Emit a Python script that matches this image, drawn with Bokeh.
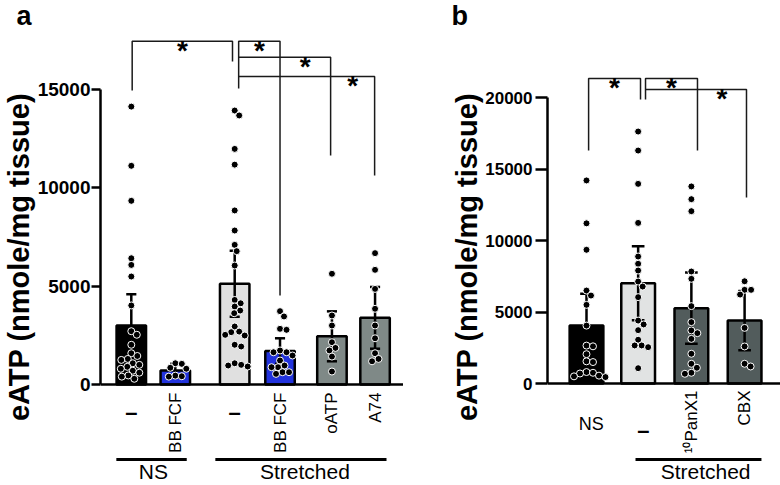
import numpy as np
from bokeh.plotting import figure
from bokeh.layouts import row
from bokeh.models import Range1d, FixedTicker, Title
from bokeh.embed import file_html
from bokeh.resources import INLINE
from bokeh.core.properties import value

# ---------------- data: panel a ----------------
a_labels = ["–", "BB FCF", "–", "BB FCF", "oATP", "A74"]
a_groups = ["NS", "Stretched"]
a_means = [3000, 710, 5120, 1700, 2450, 3390]
a_sem = [1590, 340, 1680, 650, 1270, 1570]
a_ns_ctrl = [14130, 11120, 9340, 6420, 6080, 5490, 4020, 2710, 2530, 2020, 1590,
             1450, 1300, 1250, 1080, 1000, 900, 800, 700, 600, 460, 400, 290]
a_ns_bb = [1080, 1050, 850, 800, 450, 420, 400]
a_st_ctrl = [13930, 13680, 11980, 11180, 8850, 7830, 7100, 6780, 6050, 4300, 4130,
             3965, 3760, 3625, 2950, 2690, 2660, 2525, 2490, 2020, 1930, 1080,
             1000, 965, 915]
a_st_bb = [3730, 3460, 2830, 2780, 1730, 1640, 1640, 1475, 1220, 965, 880, 880,
           625, 625, 540]
a_oatp = [5630, 3510, 3000, 2150, 1860, 1730, 1420, 660]
a_a74 = [6680, 5830, 4860, 3850, 3000, 2350, 1590, 1300, 1180]
a_points = [a_ns_ctrl, a_ns_bb, a_st_ctrl, a_st_bb, a_oatp, a_a74]
a_colors = ["#000000", "#2233dd", "#e0e0e0", "#2233dd", "#7f8987", "#7f8987"]
a_yticks = [0, 5000, 10000, 15000]

# ---------------- data: panel b ----------------
b_labels = ["NS", "–", "¹⁰PanX1", "CBX"]
b_groups = ["Stretched"]
b_means = [4055, 7010, 5270, 4400]
b_sem = [2215, 2585, 2485, 2075]
b_ns = [14200, 11200, 9350, 6500, 6150, 5500, 4050, 2650, 2600, 2050, 1550, 1500,
        800, 750, 700, 550, 500, 450]
b_st = [17620, 16290, 13960, 11230, 8880, 8370, 7900, 7130, 6780, 6040, 4400, 4130,
        3730, 3060, 2660, 2660, 2540, 1070]
b_panx = [13780, 12890, 12050, 7830, 7320, 5410, 4290, 3710, 3520, 3120, 2080,
          1380, 1100, 750, 680]
b_cbx = [7150, 6550, 6550, 6220, 3890, 2590, 1380, 1190]
b_points = [b_ns, b_st, b_panx, b_cbx]
b_colors = ["#000000", "#e1e3e3", "#525c5c", "#525c5c"]
b_yticks = [0, 5000, 10000, 15000, 20000]

# ---------------- layout ----------------
TOP = 28                 # height of the title panel
FRAME_H = 485 - TOP
FONT = "Liberation Sans"

A_POS = [0.70, 1.70, 3.05, 4.08, 5.26, 6.24]
B_POS = [0.74, 1.72, 2.73, 3.74]


def swarm(vals, xc, sx, sy, d):
    order = sorted(range(len(vals)), key=lambda i: -vals[i])
    placed = []
    xs = [0.0] * len(vals)
    for i in order:
        y = vals[i] * sy
        best = None
        k = 0
        while best is None:
            for sgn in ([1] if k == 0 else [1, -1]):
                off = sgn * k * 0.5
                if all((off - px) ** 2 + (y - py) ** 2 >= d * d for px, py in placed):
                    best = off
                    break
            k += 1
        placed.append((best, y))
        xs[i] = xc + best / sx
    return xs


def make_fig(frame_w, xr, yr, left, yticks, ybound, tick_out, standoff, tick_font,
             letter, letter_off, ylabel_off):
    p = figure(frame_width=frame_w, frame_height=FRAME_H, x_range=xr, y_range=yr,
               output_backend="svg", toolbar_location=None,
               min_border_left=left, min_border_right=0, min_border_top=0,
               min_border_bottom=0)
    p.outline_line_color = None
    p.grid.visible = False
    p.background_fill_color = "white"
    p.border_fill_color = "white"
    p.title.text = letter
    p.title.align = "left"
    p.title.offset = letter_off
    p.title.standoff = -4
    p.title.text_font = FONT
    p.title.text_font_style = "bold"
    p.title.text_font_size = "27px"
    p.title.text_color = "black"
    xa = p.xaxis[0]
    xa.fixed_location = 0
    xa.ticker = FixedTicker(ticks=[])
    xa.major_tick_out = 0
    xa.major_tick_in = 0
    xa.minor_tick_out = 0
    xa.minor_tick_in = 0
    xa.major_label_text_font_size = "0px"
    xa.major_label_standoff = 0
    xa.axis_line_width = 2.5
    xa.axis_line_color = "black"
    ya = p.yaxis[0]
    ya.ticker = FixedTicker(ticks=yticks)
    ya.bounds = ybound
    ya.axis_line_width = 2.5
    ya.axis_line_color = "black"
    ya.major_tick_line_width = 2.5
    ya.major_tick_out = tick_out
    ya.major_tick_in = 0
    ya.minor_tick_out = 0
    ya.minor_tick_in = 0
    ya.major_label_standoff = standoff
    ya.major_label_text_font = FONT
    ya.major_label_text_font_style = "bold"
    ya.major_label_text_font_size = tick_font
    ya.major_label_text_color = "black"
    p.add_layout(Title(text="eATP (nmole/mg tissue)", align="center",
                       offset=ylabel_off, standoff=0, text_font=FONT,
                       text_font_style="bold", text_font_size="29px",
                       text_color="black"), "left")
    return p


def draw_bars(p, pos, width, means, sem, colors, points, cap):
    sx = p.frame_width / (p.x_range.end - p.x_range.start)
    sy = FRAME_H / (p.y_range.end - p.y_range.start)
    p.vbar(x=pos, top=means, bottom=0, width=width, fill_color=colors,
           line_color="black", line_width=2.5)
    lo = [m - s for m, s in zip(means, sem)]
    hi = [m + s for m, s in zip(means, sem)]
    p.segment(x0=pos, y0=lo, x1=pos, y1=hi, line_color="black", line_width=2.5)
    p.segment(x0=[x - cap for x in pos], y0=hi, x1=[x + cap for x in pos], y1=hi,
              line_color="black", line_width=2.5)
    p.segment(x0=[x - cap for x in pos], y0=lo, x1=[x + cap for x in pos], y1=lo,
              line_color="black", line_width=2.5)
    px, py = [], []
    for x, vals in zip(pos, points):
        px += swarm(vals, x, sx, sy, 6.5)
        py += vals
    p.scatter(x=px, y=py, size=7, fill_color="black", line_color="white",
              line_width=1)
    return sx, sy


def draw_sig(p, brackets, stars_x, sy):
    xs, ys = [], []
    for x0, x1, top, lb, rb in brackets:
        if lb is None:
            xs.append([x0, x1, x1]); ys.append([top, top, rb])
        else:
            xs.append([x0, x0, x1, x1]); ys.append([lb, top, top, rb])
    p.multi_line(xs=xs, ys=ys, line_color="#1a1a1a", line_width=1.5)
    p.text(x=stars_x, y=[b[2] - 9 / sy for b in brackets], text=["*"] * len(brackets),
           text_font=value(FONT), text_font_style="bold", text_font_size="28px",
           text_align="center", text_baseline="alphabetic", text_color="black")


# ---------------- panel a ----------------
sa = 15000 / 295.0          # data units per reference pixel
pa = make_fig(303, Range1d(0, 303 / 44), Range1d(-(485 - 384) * sa, (384 - TOP) * sa),
              97, a_yticks, (0, 15000), 9, 1, "19px", "a", -84,
              (TOP + 485) / 2 - 233 + 7)
sxa, sya = draw_bars(pa, A_POS, 0.67, a_means, a_sem, a_colors, a_points, 0.115)

a_br = [
    (A_POS[0] + 0.02, A_POS[2] - 0.05, 17457, 14950, 16425),
    (A_POS[2] + 0.09, A_POS[3], 17457, 15051, 4526),
    (A_POS[2] + 0.09, A_POS[4] - 0.03, 16644, None, 11645),
    (A_POS[2] + 0.09, A_POS[5] - 0.01, 15662, None, 10628),
]
a_star_x = [(a_br[0][0] + a_br[0][1]) / 2, (a_br[1][0] + a_br[1][1]) / 2,
            (a_br[1][1] + a_br[2][1]) / 2, (a_br[2][1] + a_br[3][1]) / 2]
draw_sig(pa, a_br, a_star_x, sya)

vert = [i for i, t in enumerate(a_labels) if t != "–"]
dash = [i for i, t in enumerate(a_labels) if t == "–"]
pa.text(x=[A_POS[i] for i in vert], y=-8 * sa, text=[a_labels[i] for i in vert],
        angle=np.pi / 2, text_align="right", text_baseline="middle",
        text_font=value(FONT), text_font_size="17px", text_color="black")
pa.text(x=[A_POS[i] for i in dash], y=-28 * sa, text=[a_labels[i] for i in dash],
        text_align="center", text_baseline="middle", text_font=value(FONT),
        text_font_style="bold", text_font_size="22px", text_color="black")
a_span = [(0.36, 1.96), (2.61, 6.50)]
pa.segment(x0=[s[0] for s in a_span], y0=-75 * sa, x1=[s[1] for s in a_span],
           y1=-75 * sa, line_color="black", line_width=3)
pa.text(x=[(A_POS[0] + A_POS[1]) / 2, (A_POS[2] + A_POS[5]) / 2], y=-87 * sa,
        text=a_groups, text_align="center", text_baseline="middle",
        text_font=value(FONT), text_font_size="21px", text_color="black")

# ---------------- panel b ----------------
sb = 20000 / 286.0
pb = make_fig(236, Range1d(0, 236 / 52.7), Range1d(-(485 - 383) * sb, (383 - TOP) * sb),
              144, b_yticks, (0, 20000), 12, 3, "17px", "b", -96,
              (TOP + 485) / 2 - 235 + 7)
sxb, syb = draw_bars(pb, B_POS, 0.64, b_means, b_sem, b_colors, b_points, 0.12)

b_br = [
    (B_POS[0] + 0.04, B_POS[1] + 0.045, 21329, 16294, 19860),
    (B_POS[1] + 0.14, B_POS[2] + 0.116, 21329, 19860, 16294),
    (B_POS[1] + 0.14, B_POS[3] + 0.036, 20559, None, 13007),
]
b_star_x = [(b_br[0][0] + b_br[0][1]) / 2, (b_br[1][0] + b_br[1][1]) / 2,
            (b_br[1][1] + b_br[2][1]) / 2]
draw_sig(pb, b_br, b_star_x, syb)

pb.text(x=[B_POS[2], B_POS[3]], y=-7 * sb, text=[b_labels[2], b_labels[3]],
        angle=np.pi / 2, text_align="right", text_baseline="middle",
        text_font=value(FONT), text_font_size="17px", text_color="black")
pb.text(x=[B_POS[0] + 0.09], y=-40 * sb, text=[b_labels[0]], text_align="center",
        text_baseline="middle", text_font=value(FONT), text_font_size="18px",
        text_color="black")
pb.text(x=[B_POS[1] + 0.1], y=-47 * sb, text=[b_labels[1]], text_align="center",
        text_baseline="middle", text_font=value(FONT), text_font_style="bold",
        text_font_size="22px", text_color="black")
b_span = [(1.67, 4.06)]
pb.segment(x0=[s[0] for s in b_span], y0=-76 * sb, x1=[s[1] for s in b_span],
           y1=-76 * sb, line_color="black", line_width=3)
pb.text(x=[3.0], y=-88 * sb, text=b_groups, text_align="center", text_baseline="middle",
        text_font=value(FONT), text_font_size="21px", text_color="black")

layout = row(pa, pb)
open("out.html", "w").write(file_html(layout, INLINE))
